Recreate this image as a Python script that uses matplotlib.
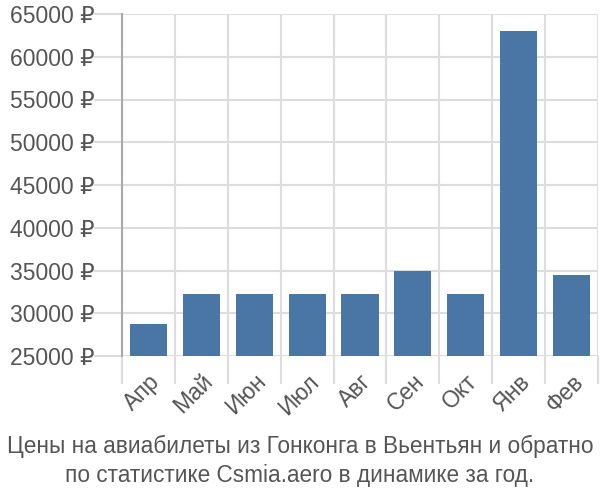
import numpy as np
import matplotlib
matplotlib.use("Agg")
import matplotlib.pyplot as plt

# =========================
# DATA
# =========================
MONTHS = ["Апр", "Май", "Июн", "Июл", "Авг", "Сен", "Окт", "Янв", "Фев"]
PRICES = [28750, 32250, 32250, 32250, 32250, 34950, 32250, 63000, 34450]
Y_TICKS = [25000, 30000, 35000, 40000, 45000, 50000, 55000, 60000, 65000]
TITLE = "Цены на авиабилеты из Гонконга в Вьентьян и обратно\nпо статистике Csmia.aero в динамике за год."

# =========================
# STYLE
# =========================
plt.rcParams["font.family"] = ["Liberation Sans", "DejaVu Sans"]
BAR_COLOR = "#4a76a6"
GRID_COLOR = "#dddddd"
TEXT_COLOR = "#555555"

FIG = plt.figure(figsize=(6, 5), dpi=100)
AX = FIG.add_axes([122 / 600, 1 - 356 / 500, 476 / 600, 342 / 500])

X = np.arange(len(MONTHS))
AX.bar(X, PRICES, width=0.7, color=BAR_COLOR, zorder=3)

AX.set_ylim(25000, 65000)
AX.set_xlim(-0.5, len(MONTHS) - 0.5)

AX.set_yticks(Y_TICKS)
AX.set_yticklabels([f"{v} ₽" for v in Y_TICKS])
AX.set_xticks(X)
AX.set_xticklabels(MONTHS, rotation=45, ha="right", va="top", rotation_mode="anchor")
AX.set_xticks(np.arange(-0.5, len(MONTHS)), minor=True)

AX.tick_params(axis="y", length=20, color=GRID_COLOR, width=1.5, labelsize=16.5, labelcolor=TEXT_COLOR, pad=0)
AX.tick_params(axis="x", which="major", length=0, labelsize=16.5, labelcolor=TEXT_COLOR, pad=10)
AX.tick_params(axis="x", which="minor", length=20, color=GRID_COLOR, width=1.5)

AX.grid(axis="y", color=GRID_COLOR, linewidth=1.5, zorder=0)
AX.grid(axis="x", which="minor", color=GRID_COLOR, linewidth=1.5, zorder=0)

for SIDE in ["top", "right", "bottom"]:
    AX.spines[SIDE].set_visible(False)
AX.spines["left"].set_color("#aaaaaa")
AX.spines["left"].set_linewidth(1.5)

FIG.text(0.5, 0.078, TITLE, ha="center", va="center", fontsize=16.3, color=TEXT_COLOR, linespacing=1.35)

FIG.savefig("out.png", dpi=100)
